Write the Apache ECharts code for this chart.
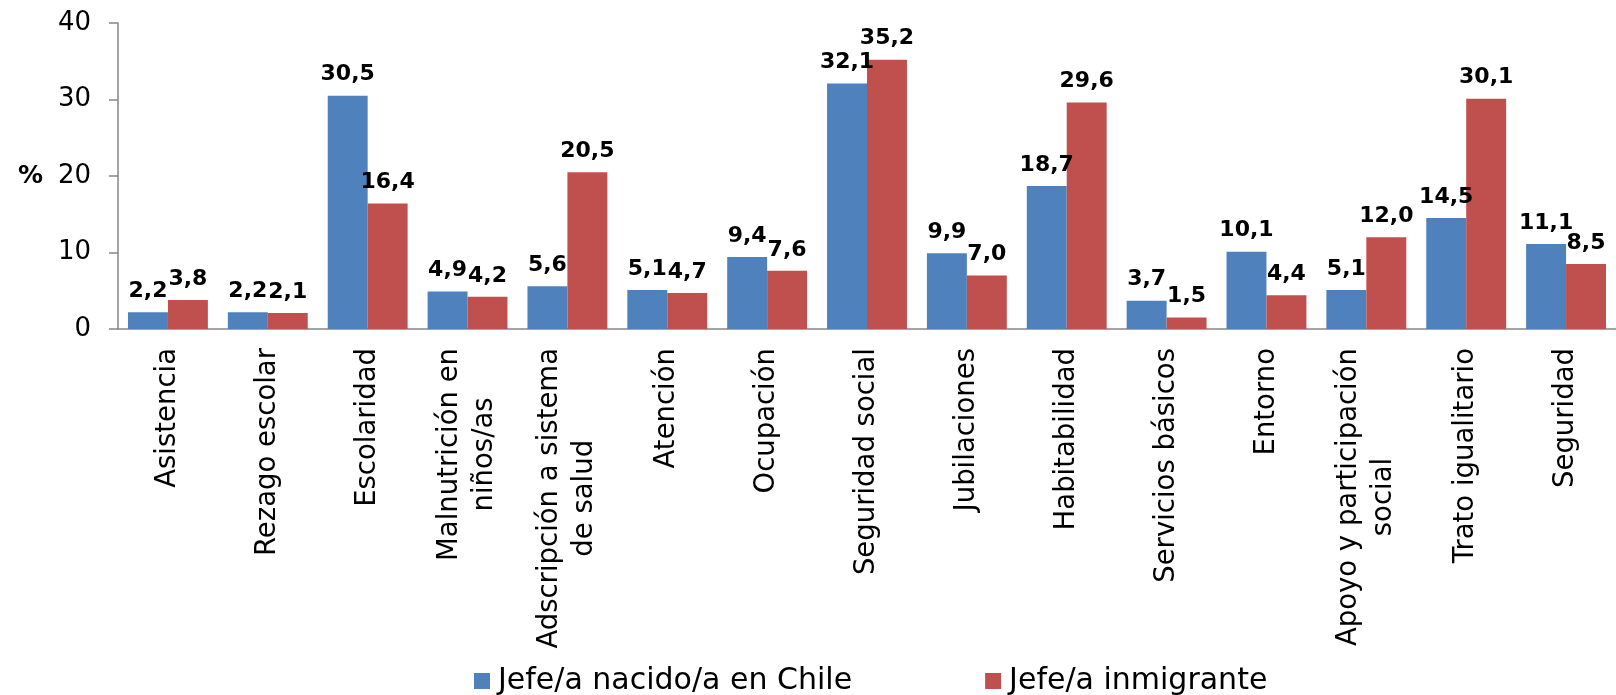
<!DOCTYPE html>
<html>
<head>
<meta charset="utf-8">
<script src="https://cdn.jsdelivr.net/npm/echarts@6/dist/echarts.min.js"></script>
<style>
html,body{margin:0;padding:0;background:#fff;}
#chart{width:1616px;height:695px;}
</style>
</head>
<body>
<div id="chart"></div>
<script>
const categories = [
  "Asistencia", "Rezago escolar", "Escolaridad", "Malnutrición en\nniños/as",
  "Adscripción a sistema\nde salud", "Atención", "Ocupación", "Seguridad social",
  "Jubilaciones", "Habitabilidad", "Servicios básicos", "Entorno",
  "Apoyo y participación\nsocial", "Trato igualitario", "Seguridad"
];
const chileValues = [2.2, 2.2, 30.5, 4.9, 5.6, 5.1, 9.4, 32.1, 9.9, 18.7, 3.7, 10.1, 5.1, 14.5, 11.1];
const inmigranteValues = [3.8, 2.1, 16.4, 4.2, 20.5, 4.7, 7.6, 35.2, 7.0, 29.6, 1.5, 4.4, 12.0, 30.1, 8.5];
const seriesNames = ["Jefe/a nacido/a en Chile", "Jefe/a inmigrante"];
const yTicks = [0, 10, 20, 30, 40];

const chart = echarts.init(document.getElementById('chart'));
const fmt = p => p.value.toFixed(1).replace('.', ',');
const labelCfg = {
  show: true, position: 'top', distance: 10,
  formatter: fmt, color: '#000', fontFamily: 'DejaVu Sans', fontWeight: 'bold', fontSize: 22
};
chart.setOption({
  animation: false,
  backgroundColor: '#fff',
  grid: { left: 118, top: 23, width: 1506, height: 306 },
  legend: {
    data: seriesNames,
    left: 469, top: 661,
    itemWidth: 16, itemHeight: 16, itemGap: 133,
    icon: 'rect',
    textStyle: { fontFamily: 'DejaVu Sans', fontSize: 30, color: '#000', padding: [0, 0, 0, 3] }
  },
  xAxis: {
    type: 'category',
    data: categories,
    axisLine: { lineStyle: { color: '#868686', width: 1.5 } },
    axisTick: { length: 9, lineStyle: { color: '#868686', width: 1.5 } },
    axisLabel: {
      rotate: 90, margin: 19, interval: 0,
      formatter: v => v.split('\n').map(s => '{a|' + s + '}').join('\n'),
      rich: { a: { fontFamily: 'DejaVu Sans', fontSize: 27.5, lineHeight: 35, color: '#000', align: 'center' } }
    }
  },
  yAxis: {
    type: 'value', min: yTicks[0], max: yTicks[yTicks.length - 1], interval: 10,
    name: '%', nameLocation: 'middle', nameRotate: 0, nameGap: 75,
    nameTextStyle: { fontFamily: 'DejaVu Sans', fontWeight: 'bold', fontSize: 25, color: '#000' },
    axisLine: { show: true, lineStyle: { color: '#868686', width: 1.5 } },
    axisTick: { show: true, length: 9, lineStyle: { color: '#868686', width: 1.5 } },
    splitLine: { show: false },
    axisLabel: { margin: 27, fontFamily: 'DejaVu Sans', fontSize: 26, color: '#000' }
  },
  series: [
    { name: seriesNames[0], type: 'bar', data: chileValues, barGap: '0%', barCategoryGap: '20%',
      itemStyle: { color: '#4F81BD' }, label: labelCfg },
    { name: seriesNames[1], type: 'bar', data: inmigranteValues, barGap: '0%', barCategoryGap: '20%',
      itemStyle: { color: '#C0504D' }, label: labelCfg }
  ]
});
</script>
</body>
</html>
